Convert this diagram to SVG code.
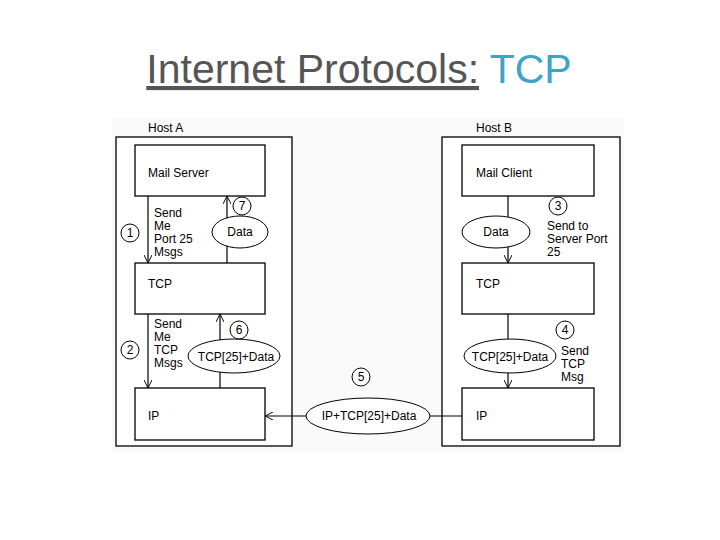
<svg xmlns="http://www.w3.org/2000/svg" width="720" height="540" viewBox="0 0 720 540">
<defs>
<marker id="ar" viewBox="0 0 10 10" refX="10" refY="5" markerWidth="8" markerHeight="8" orient="auto" markerUnits="userSpaceOnUse"><path d="M0,0 L10,5 L0,10" fill="none" stroke="#000" stroke-width="1.2"/></marker>
<style>
.b{fill:#fff;stroke:#000;stroke-width:1.3}
.e{fill:#fff;stroke:#000;stroke-width:1}
.l{stroke:#000;stroke-width:1.2;fill:none}
text{font-family:"Liberation Sans",Arial,sans-serif;font-size:12px;fill:#000}
.c{text-anchor:middle}
</style>
</defs>
<rect width="720" height="540" fill="#fff"/>
<rect x="112" y="118" width="512" height="334" fill="#fafafa"/>
<text x="359" y="83" class="c" style="font-size:41px;fill:#555"><tspan text-decoration="underline">Internet Protocols:</tspan> <tspan style="fill:#3ea3c8">TCP</tspan></text>
<g id="hostA"><text x="148" y="132">Host A</text><rect class="b" x="116" y="137" width="176" height="309"/></g>
<g id="hostB"><text x="476" y="132">Host B</text><rect class="b" x="442" y="137" width="178" height="309"/></g>
<g id="connectors">
<line class="l" x1="148" y1="196" x2="148" y2="263" marker-end="url(#ar)"/>
<line class="l" x1="227" y1="263" x2="227" y2="196" marker-end="url(#ar)"/>
<line class="l" x1="148" y1="314" x2="148" y2="388" marker-end="url(#ar)"/>
<line class="l" x1="220" y1="388" x2="220" y2="314" marker-end="url(#ar)"/>
<line class="l" x1="508" y1="196" x2="508" y2="263" marker-end="url(#ar)"/>
<line class="l" x1="508" y1="314" x2="508" y2="388" marker-end="url(#ar)"/>
<line class="l" x1="462" y1="416" x2="265" y2="416" marker-end="url(#ar)"/>
</g>
<g id="mailServer"><rect class="b" x="135" y="145" width="130" height="51"/><text x="148" y="177">Mail Server</text></g>
<g id="tcpA"><rect class="b" x="135" y="263" width="130" height="51"/><text x="148" y="288">TCP</text></g>
<g id="ipA"><rect class="b" x="135" y="388" width="130" height="52"/><text x="148" y="420">IP</text></g>
<g id="mailClient"><rect class="b" x="462" y="145" width="132" height="51"/><text x="476" y="177">Mail Client</text></g>
<g id="tcpB"><rect class="b" x="462" y="263" width="132" height="51"/><text x="476" y="288">TCP</text></g>
<g id="ipB"><rect class="b" x="462" y="388" width="132" height="52"/><text x="476" y="420">IP</text></g>
<g id="dataA"><ellipse class="e" cx="240" cy="232" rx="28" ry="16"/><text x="240" y="236" class="c">Data</text></g>
<g id="tcpDataA"><ellipse class="e" cx="234" cy="356" rx="46" ry="17"/><text x="236" y="361" class="c">TCP[25]+Data</text></g>
<g id="dataB"><ellipse class="e" cx="496" cy="232" rx="34" ry="16"/><text x="496" y="236" class="c">Data</text></g>
<g id="tcpDataB"><ellipse class="e" cx="510" cy="356" rx="46" ry="17"/><text x="510" y="361" class="c">TCP[25]+Data</text></g>
<g id="ipData"><ellipse class="e" cx="368" cy="416" rx="62" ry="18"/><text x="369" y="420" class="c">IP+TCP[25]+Data</text></g>
<g id="lbl1"><text x="154" y="217">Send</text><text x="154" y="230">Me</text><text x="154" y="243">Port 25</text><text x="154" y="256">Msgs</text></g>
<g id="lbl2"><text x="154" y="328">Send</text><text x="154" y="341">Me</text><text x="154" y="354">TCP</text><text x="154" y="367">Msgs</text></g>
<g id="lbl3"><text x="547" y="230">Send to</text><text x="547" y="243">Server Port</text><text x="547" y="256">25</text></g>
<g id="lbl4"><text x="561" y="355">Send</text><text x="561" y="368">TCP</text><text x="561" y="381">Msg</text></g>
<g id="n1"><circle class="e" cx="130" cy="233" r="9"/><text x="130" y="237" class="c">1</text></g>
<g id="n2"><circle class="e" cx="130" cy="350" r="9"/><text x="130" y="354" class="c">2</text></g>
<g id="n3"><circle class="e" cx="558" cy="206" r="9"/><text x="558" y="210" class="c">3</text></g>
<g id="n4"><circle class="e" cx="565" cy="330" r="9"/><text x="565" y="334" class="c">4</text></g>
<g id="n5"><circle class="e" cx="361" cy="377" r="9"/><text x="361" y="381" class="c">5</text></g>
<g id="n6"><circle class="e" cx="239" cy="330" r="9"/><text x="239" y="334" class="c">6</text></g>
<g id="n7"><circle class="e" cx="242" cy="206" r="9"/><text x="242" y="210" class="c">7</text></g>
</svg>
